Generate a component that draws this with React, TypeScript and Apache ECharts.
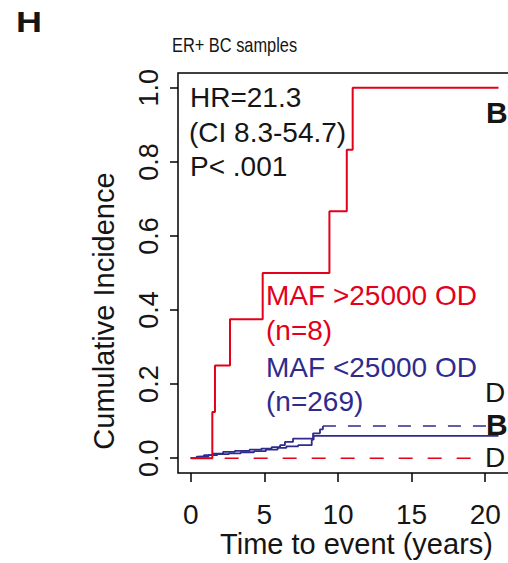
import React, { useEffect, useRef } from "react";
import * as echarts from "echarts";

// ---- data ----
const xTicks = [0, 5, 10, 15, 20];
const yTicks = [0, 0.2, 0.4, 0.6, 0.8, 1.0];

// MAF >25000 OD (n=8): breast cancer events (B), deaths (D)
const highBcTimes = [0, 1.47, 1.65, 2.67, 4.89, 9.42, 10.6, 11.0, 20.9];
const highBcCumInc = [0, 0.125, 0.25, 0.375, 0.5, 0.667, 0.833, 1.0, 1.0];
const highDeathTimes = [0, 20.0];
const highDeathCumInc = [0, 0];

// MAF <25000 OD (n=269)
const lowBcTimes = [0, 0.6, 1.2, 1.8, 2.6, 3.4, 4.3, 5.1, 5.9, 6.5, 7.3, 8.22, 8.35, 20.9];
const lowBcCumInc = [0, 0.004, 0.008, 0.011, 0.013, 0.016, 0.019, 0.023, 0.028, 0.032, 0.035, 0.05, 0.06, 0.06];
const lowDeathTimes = [0, 0.4, 0.9, 1.5, 2.2, 3.0, 4.0, 4.8, 5.5, 6.07, 6.4, 6.95, 8.31, 8.78, 8.98, 20.1];
const lowDeathCumInc = [0, 0.004, 0.008, 0.012, 0.017, 0.02, 0.023, 0.026, 0.03, 0.035, 0.044, 0.053, 0.067, 0.078, 0.087, 0.087];

const FONT = "'Liberation Sans', Arial, Helvetica, sans-serif";
const RED = "#E3001B";
const BLUE = "#2E2B8C";
const INK = "#151515";

function zip(t: number[], v: number[]) {
  return t.map((x, i) => [x, v[i]]);
}

export default function App() {
  const ref = useRef<HTMLDivElement>(null);
  useEffect(() => {
    document.body.style.margin = "0";
    if (!ref.current) return;
    const chart = echarts.init(ref.current, null, { renderer: "svg" });

    const lowDeath = zip(lowDeathTimes, lowDeathCumInc);
    const finalVal = lowDeathCumInc[lowDeathCumInc.length - 1];
    const dashFrom = lowDeathCumInc.indexOf(finalVal);
    const lowDeathEarly = lowDeath.slice(0, dashFrom + 1);
    const lowDeathLate = lowDeath.slice(dashFrom);

    const lineBase = {
      type: "line",
      step: "end",
      symbol: "none",
      showSymbol: false,
      silent: true,
    };

    const txt = (text: string, x: number, y: number, opts: any = {}) => ({
      type: "text",
      x,
      y,
      rotation: opts.rotation || 0,
      scaleX: opts.scaleX || 1,
      silent: true,
      style: {
        text,
        fill: opts.color || INK,
        font: `${opts.bold ? "bold " : ""}${opts.size || 28}px ${FONT}`,
        textAlign: opts.align || "left",
        textVerticalAlign: "middle",
        verticalAlign: "middle",
      },
    });

    chart.setOption({
      animation: false,
      grid: {
        left: 178,
        top: 73,
        width: 342,
        height: 400,
        show: true,
        borderColor: "#000",
        borderWidth: 1.5,
        backgroundColor: "transparent",
        containLabel: false,
        outerBoundsMode: "none",
      },
      xAxis: {
        type: "value",
        min: -0.86,
        max: 22.36,
        axisLine: { show: false, onZero: false },
        splitLine: { show: false },
        axisTick: {
          show: true,
          length: 9,
          customValues: xTicks,
          lineStyle: { color: "#000", width: 1.5 },
        },
        axisLabel: {
          customValues: xTicks,
          fontSize: 28,
          fontFamily: FONT,
          color: INK,
          margin: 27,
          formatter: (v: number) => String(v),
        },
      },
      yAxis: {
        type: "value",
        min: -0.04,
        max: 1.04,
        axisLine: { show: false, onZero: false },
        splitLine: { show: false },
        axisTick: {
          show: true,
          length: 8,
          customValues: yTicks,
          lineStyle: { color: "#000", width: 1.5 },
        },
        axisLabel: {
          customValues: yTicks,
          rotate: 90,
          fontSize: 27,
          fontFamily: FONT,
          color: INK,
          margin: 16,
          formatter: (v: number) => v.toFixed(1),
        },
      },
      series: [
        {
          ...lineBase,
          name: "MAF <25000 OD B",
          data: zip(lowBcTimes, lowBcCumInc),
          lineStyle: { color: BLUE, width: 1.8 },
        },
        {
          ...lineBase,
          name: "MAF <25000 OD D (early)",
          data: lowDeathEarly,
          lineStyle: { color: BLUE, width: 1.8 },
        },
        {
          ...lineBase,
          name: "MAF <25000 OD D",
          data: lowDeathLate,
          lineStyle: { color: BLUE, width: 1.5, type: [13, 12] },
        },
        {
          ...lineBase,
          name: "MAF >25000 OD D",
          data: zip(highDeathTimes, highDeathCumInc),
          lineStyle: { color: RED, width: 1.5, type: [14, 15], dashOffset: 24 },
        },
        {
          ...lineBase,
          name: "MAF >25000 OD B",
          data: zip(highBcTimes, highBcCumInc),
          lineStyle: { color: RED, width: 2 },
        },
      ],
      graphic: [
        txt("H", 16, 22, { bold: true, size: 30, scaleX: 1.2 }),
        txt("ER+ BC samples", 172, 45, { size: 20, scaleX: 0.82 }),
        txt("HR=21.3", 190, 97, {}),
        txt("(CI 8.3-54.7)", 189, 132, {}),
        txt("P< .001", 190, 166, {}),
        txt("MAF >25000 OD", 266, 295.5, { color: RED }),
        txt("(n=8)", 266, 330, { color: RED }),
        txt("MAF <25000 OD", 266, 367.5, { color: BLUE }),
        txt("(n=269)", 266, 401.5, { color: BLUE }),
        txt("B", 486, 112, { bold: true, size: 30 }),
        txt("D", 485, 392.5, {}),
        txt("B", 486, 424, { bold: true, size: 30 }),
        txt("D", 485, 457.5, {}),
        txt("Time to event (years)", 356.5, 544, { size: 29, align: "center" }),
        txt("Cumulative Incidence", 104, 311, {
          size: 29,
          align: "center",
          rotation: Math.PI / 2,
        }),
      ],
    });
    return () => chart.dispose();
  }, []);
  return <div ref={ref} style={{ width: 508, height: 563 }} />;
}
